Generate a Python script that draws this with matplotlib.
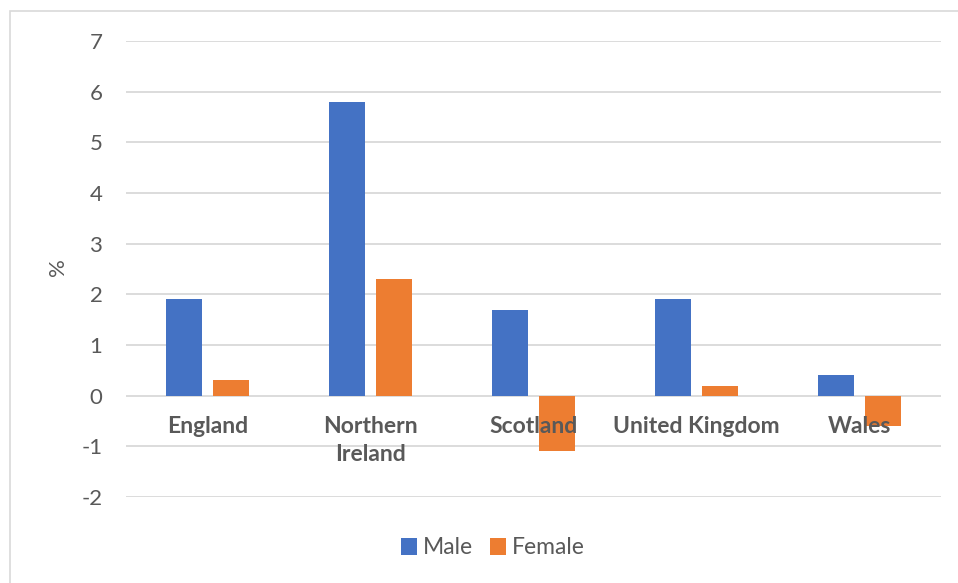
import matplotlib.pyplot as plt
import numpy as np
from matplotlib.patches import Rectangle

regions = ["England", "Northern\nIreland", "Scotland", "United Kingdom", "Wales"]
male = [1.9, 5.8, 1.7, 1.9, 0.4]
female = [0.3, 2.3, -1.1, 0.2, -0.6]
y_ticks = [-2, -1, 0, 1, 2, 3, 4, 5, 6, 7]

BLUE = "#4472C4"
ORANGE = "#ED7D31"
GRID = "#D9D9D9"
TEXT = "#595959"

plt.rcParams["font.family"] = ["Lato", "DejaVu Sans"]

fig = plt.figure(figsize=(9.58, 5.83), dpi=100)
W, H = 958, 583

# light chart frame, running off the right and bottom edges
fig.patches.append(Rectangle((10 / W, -0.1), 1.2, 1.1 - 11 / H,
                             transform=fig.transFigure, fill=False,
                             edgecolor=GRID, linewidth=1.2))

ax = fig.add_axes([126 / W, (H - 497) / H, (941 - 126) / W, (497 - 41) / H])

x = np.arange(len(regions))
width = 0.221
offset = 0.144
ax.bar(x - offset, male, width, color=BLUE, label="Male", zorder=3)
ax.bar(x + offset, female, width, color=ORANGE, label="Female", zorder=3)

ax.set_xlim(-0.5, len(regions) - 0.5)
ax.set_ylim(-2, 7)
ax.set_yticks(y_ticks)
ax.set_yticklabels([str(v) for v in y_ticks], fontsize=16, color=TEXT)
ax.tick_params(axis="y", length=0, pad=17)
ax.set_xticks([])
ax.grid(axis="y", color=GRID, linewidth=1.3, zorder=0)
for s in ax.spines.values():
    s.set_visible(False)

# category names sit just under the zero line, drawn over the bars
for xi, name in zip(x, regions):
    ax.text(xi, -0.4, name, ha="center", va="top", fontsize=16.5,
            fontweight="bold", color=TEXT, linespacing=1.4, zorder=5)

ax.set_ylabel("%", fontsize=16, color=TEXT)
ax.yaxis.set_label_coords(-0.071, 0.505)

leg = fig.legend(loc="center", bbox_to_anchor=(493 / W, (H - 548) / H), ncol=2,
                 frameon=False, fontsize=16.5, handlelength=0.7, handleheight=0.7,
                 handletextpad=0.25, columnspacing=0.75)
for t in leg.get_texts():
    t.set_color(TEXT)

fig.savefig("out.png", dpi=100)
